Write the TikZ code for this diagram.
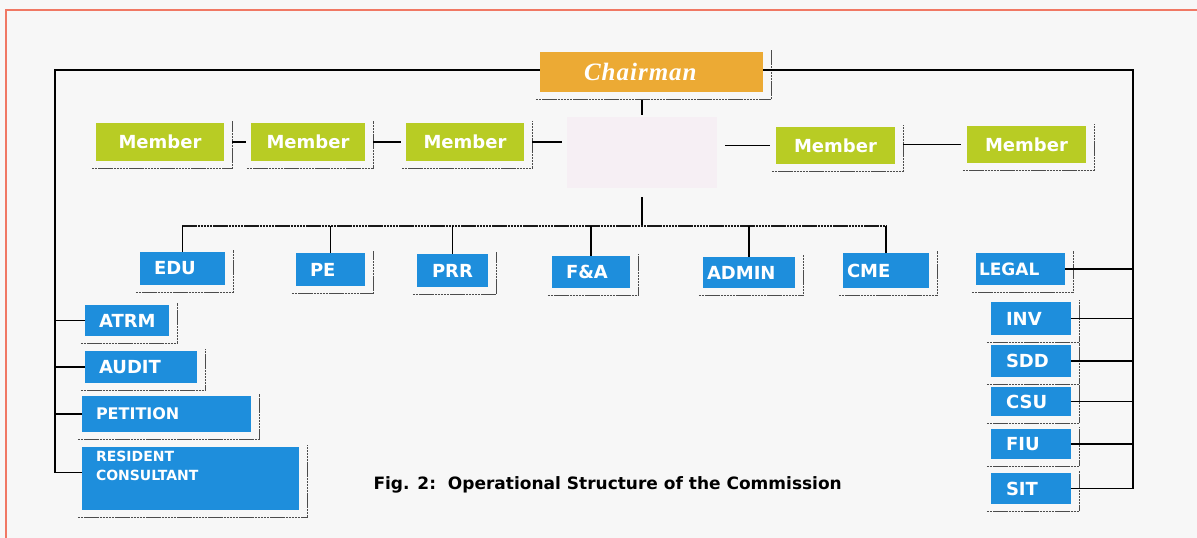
\documentclass[tikz,border=0pt]{standalone}
\usepackage{fontspec}
\setmainfont{DejaVu Sans}
\newfontfamily\chairfont[LetterSpace=4]{Liberation Serif}
\newfontfamily\capfont{DejaVu Sans}
\usepackage{tikz}

\definecolor{chairorange}{RGB}{236,170,52}
\definecolor{membergreen}{RGB}{184,204,36}
\definecolor{unitblue}{RGB}{30,142,220}
\definecolor{framered}{RGB}{240,120,100}
\definecolor{corepink}{RGB}{246,239,244}

\begin{document}
\begin{tikzpicture}[x=1pt,y=-1pt,
    box/.style={draw=none,text=white,inner sep=0pt},
    member/.style={box,fill=membergreen,align=center,font=\bfseries\fontsize{18}{21}\selectfont},
    unit/.style={box,fill=unitblue,align=left},
    link/.style={draw,line width=1.3pt},
    trace/.style={draw,line width=0.9pt,black!70,dash pattern=on 2.5pt off 0.6pt}]
    \useasboundingbox (0,0) rectangle (1197,538);
    \fill[black!3] (0,0) rectangle (1197,538);
    \draw[framered,line width=1.5pt] (6,538) -- (6,10) -- (1197,10);

    \node[box,fill=chairorange,minimum width=223pt,minimum height=40pt,text width=135pt,inner xsep=44pt,align=left,font=\chairfont\bfseries\itshape\fontsize{25}{28}\selectfont] (chair) at (651.5,72) {Chairman};
    \node[fill=corepink,minimum width=150pt,minimum height=71pt] (core) at (642,152.5) {};

    \foreach [count=\i] \x/\y/\w/\h in {160/142/128/38,308/142/114/38,465/142/118/38,835.5/145.5/119/37,1026.5/144.5/119/37}{
        \node[member,minimum width=\w pt,minimum height=\h pt] (m\i) at (\x,\y) {Member};
    }

    \foreach \name/\x/\y/\w/\h/\p/\fs/\txt in {edu/182.5/268.5/85/33/14/18/EDU,pe/330.5/269.5/69/33/14/18/PE,prr/452.5/270.5/71/33/15/18/PRR,fa/591/272/78/32/14/18/F\&A,admin/749/272.5/92/31/4/18/ADMIN,cme/886/270.5/86/35/4/18/CME,legal/1020.5/269/89/32/3/17/LEGAL,inv/1031/318.5/80/33/15/18/INV,sdd/1031/361/80/32/15/18/SDD,csu/1031/401.5/80/29/15/18/CSU,fiu/1031/444/80/30/15/18/FIU,sit/1031/488.5/80/31/15/18/SIT,atrm/127/320.5/84/31/14/18/ATRM,audit/141/367/112/32/14/18/AUDIT,petition/166.5/414/169/36/14/16/PETITION,resident/190.5/478.5/217/63/14/14/{RESIDENT\\CONSULTANT\\\strut}}{
        \pgfmathsetmacro\tw{\w-2*\p}
        \node[unit,minimum width=\w pt,minimum height=\h pt,text width=\tw pt,inner xsep=\p pt,font=\bfseries\fontsize{\fs}{19}\selectfont] (\name) at (\x,\y) {\txt};
    }

    \node[anchor=west,font=\capfont\bfseries\fontsize{17}{20}\selectfont] (caption) at (370,485) {Fig. 2:\ \ Operational Structure of the Commission};

    % shadow traces
    \foreach \n in {chair,m1,m2,m3,m4,m5,edu,pe,prr,fa,admin,cme,legal,inv,sdd,csu,fiu,sit,atrm,audit,petition,resident}{
        \draw[trace] ([xshift=-4pt,yshift=-7pt]\n.south west) -- ([xshift=8pt,yshift=-7pt]\n.south east) -- ([xshift=8pt,yshift=2pt]\n.north east);
    }

    \coordinate (lbus) at (55,70);
    \coordinate (rbus) at (1133,70);
    \coordinate (busl) at (182,226);
    \coordinate (busr) at (886,226);
    \coordinate (rjoin) at ([yshift=6pt]resident.west);

    \draw[link] (chair.west |- lbus) -- (lbus) -- (lbus |- rjoin) -- (rjoin);
    \foreach \n in {atrm,audit,petition}{
        \draw[link] (\n.west) -- (\n.west -| lbus);
    }
    \draw[link] (chair.east |- rbus) -- (rbus) -- (rbus |- sit.east) -- (sit.east);
    \foreach \n in {legal,inv,sdd,csu,fiu}{
        \draw[link] (\n.east) -- (\n.east -| rbus);
    }

    \draw[link,shorten <=8pt,shorten >=2pt] (core.north |- chair.south) -- (core.north);
    \foreach \a/\b in {m1/m2,m2/m3,m3/core}{
        \draw[link,shorten <=8pt,shorten >=5pt] (\a.east) -- (\a.east -| \b.west);
    }
    \foreach \a/\b in {core/m4,m4/m5}{
        \draw[link,shorten <=8pt,shorten >=6pt] (\b.west -| \a.east) -- (\b.west);
    }
    \draw[link,shorten <=9pt] (core.south) -- (core.south |- busl);
    \draw[trace,black!90,line width=1.3pt] (busl) -- (busr);
    \foreach \n in {edu,pe,prr,fa,admin,cme}{
        \draw[link] (\n.north |- busl) -- (\n.north);
    }
\end{tikzpicture}
\end{document}
